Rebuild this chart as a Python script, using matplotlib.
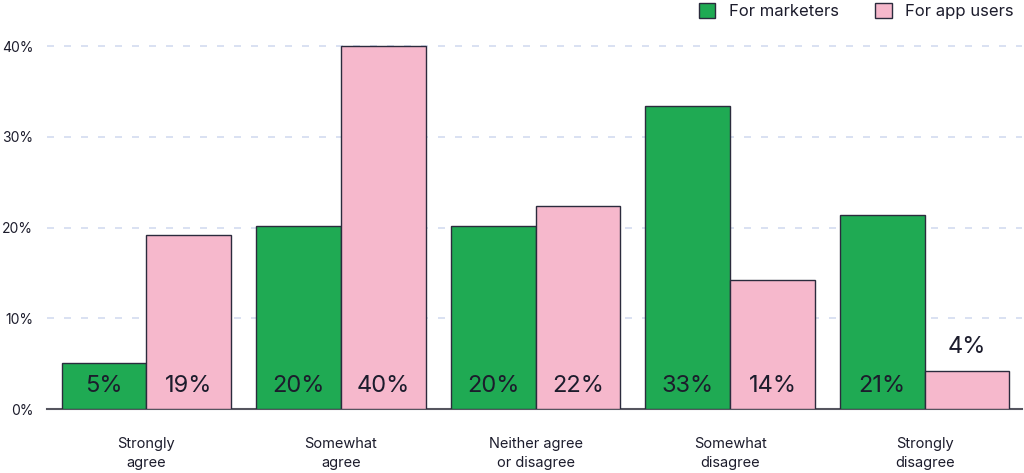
import numpy as np
import matplotlib.pyplot as plt
from matplotlib.patches import Patch

plt.rcParams['font.family'] = ['Inter', 'DejaVu Sans']

categories = ['Strongly\nagree', 'Somewhat\nagree', 'Neither agree\nor disagree',
              'Somewhat\ndisagree', 'Strongly\ndisagree']
marketers = [5.1, 20.2, 20.2, 33.4, 21.4]
app_users = [19.2, 40.0, 22.4, 14.2, 4.2]
series_names = ['For marketers', 'For app users']
yticks = [0, 10, 20, 30, 40]

green = '#1faa53'
pink = '#f6b8cc'
edge = '#2b2b3d'
txt = '#1c1c2c'

fig = plt.figure(figsize=(10.24, 4.73), dpi=100)
ax = fig.add_axes([0.046, 0.135, 0.952, 0.780])

x = np.arange(len(categories))
w = 0.436
b1 = ax.bar(x - w / 2, marketers, w, color=green, edgecolor=edge, linewidth=1.0, zorder=3)
b2 = ax.bar(x + w / 2, app_users, w, color=pink, edgecolor=edge, linewidth=1.0, zorder=3)

for bars, vals in ((b1, marketers), (b2, app_users)):
    for bar, v in zip(bars, vals):
        cx = bar.get_x() + bar.get_width() / 2
        ypos = 2.6 if v > 4.5 else v + 2.6
        ax.text(cx, ypos, f"{v:.0f}%", ha='center', va='center',
                fontsize=17, color=txt, zorder=4)

ax.set_xlim(-0.51, 4.5)
ax.set_ylim(0, 40.66)
ax.set_yticks(yticks)
ax.set_yticklabels([f"{t}%" for t in yticks], fontsize=10, color=txt)
ax.set_xticks(x)
ax.set_xticklabels(categories, fontsize=10.5, color=txt, linespacing=1.5)
ax.tick_params(axis='both', length=0)
ax.tick_params(axis='y', pad=10)
ax.tick_params(axis='x', pad=20)

for t in yticks[1:]:
    ax.axhline(t, color='#d3dcf0', linewidth=1.2, linestyle=(0, (4.2, 6)), zorder=1)

for s in ['top', 'right', 'left']:
    ax.spines[s].set_visible(False)
ax.spines['bottom'].set_color('#55555f')
ax.spines['bottom'].set_linewidth(1.5)

handles = [Patch(facecolor=green, edgecolor=edge, label=series_names[0]),
           Patch(facecolor=pink, edgecolor=edge, label=series_names[1])]
fig.legend(handles=handles, loc='upper right', bbox_to_anchor=(1.005, 1.025), ncol=2,
           frameon=False, fontsize=12, handlelength=1.0, handleheight=1.0,
           columnspacing=2.2, handletextpad=0.8, labelcolor=txt)

plt.savefig("out.png", dpi=100)
